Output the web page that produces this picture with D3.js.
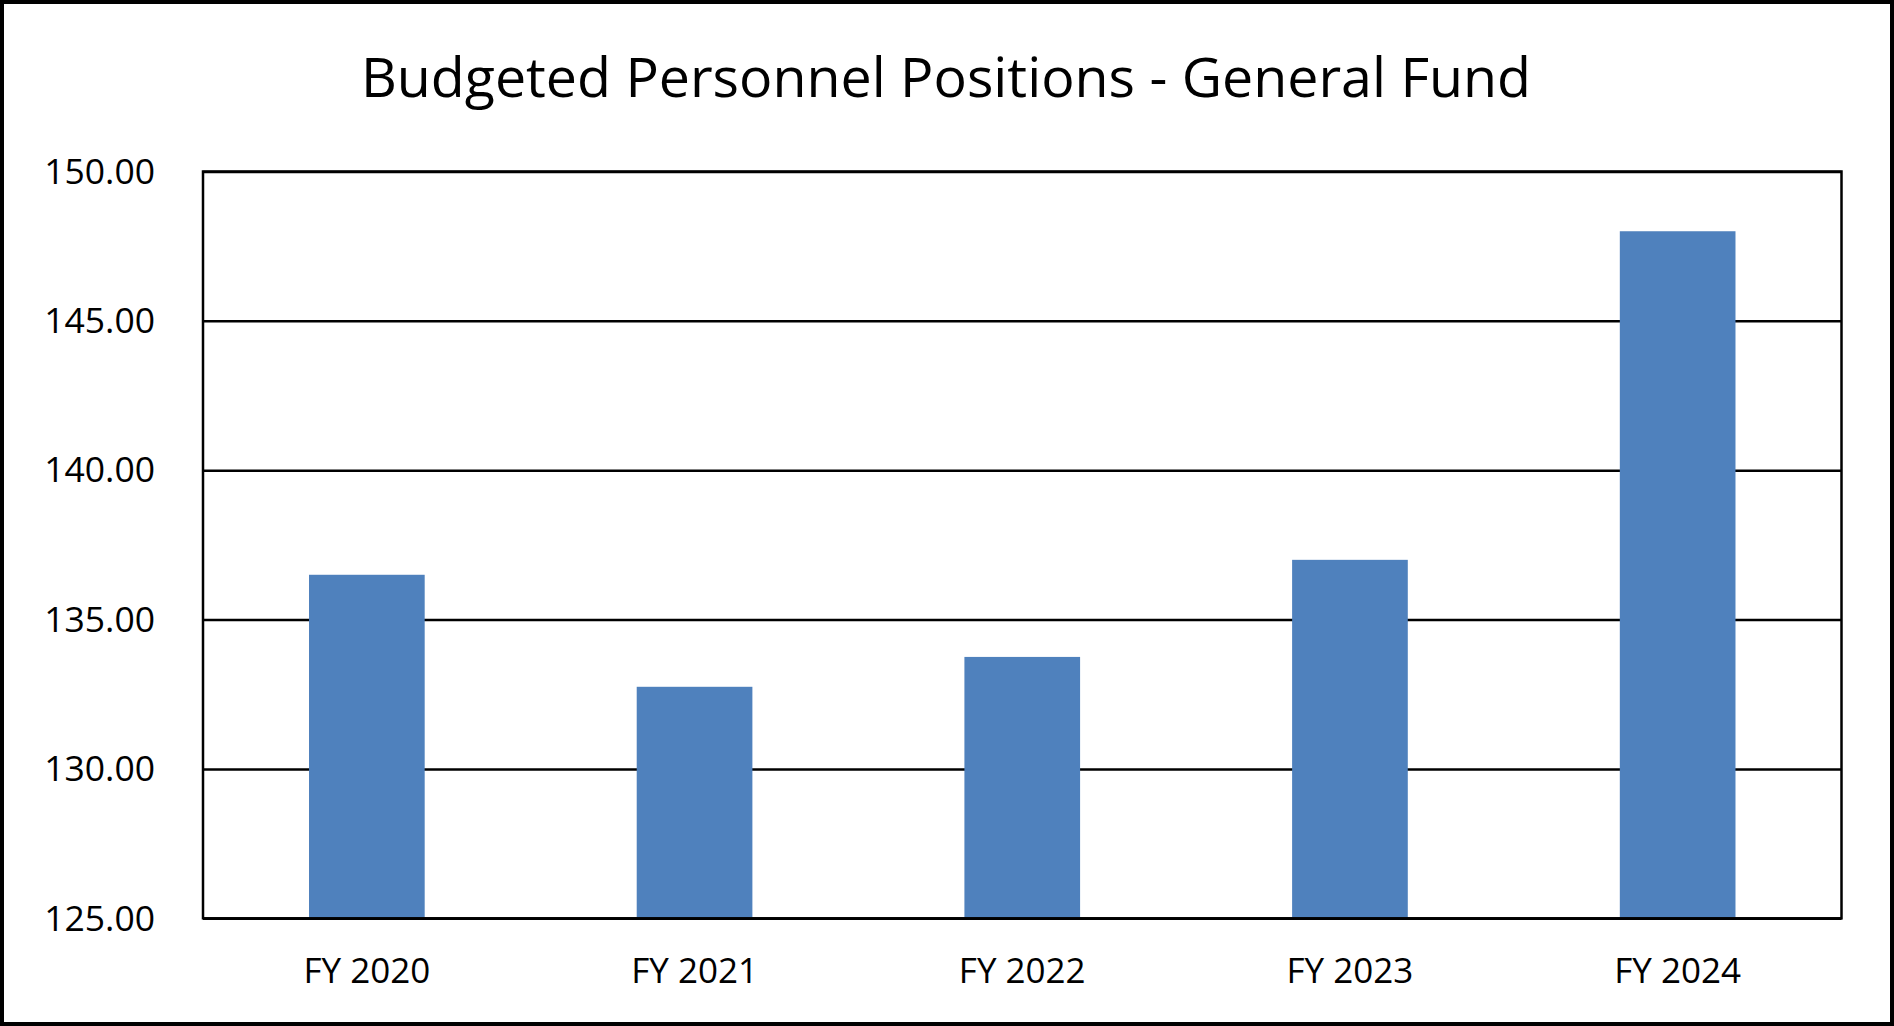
<!DOCTYPE html>
<html><head><meta charset="utf-8">
<script src="https://cdn.jsdelivr.net/npm/d3@7"></script>
<style>
html,body{margin:0;padding:0;background:#fff;}
text{font-family:"Open Sans",sans-serif;fill:#000;}
</style></head>
<body>
<svg id="chart" width="1894" height="1026"></svg>
<script>
const title = "Budgeted Personnel Positions - General Fund";
const categories = ["FY 2020", "FY 2021", "FY 2022", "FY 2023", "FY 2024"];
const values = [136.5, 132.75, 133.75, 137.0, 148.0];
const yTicks = [125, 130, 135, 140, 145, 150];

const W = 1894, H = 1026;
const m = {left: 203, right: 1841.5, top: 171.5, bottom: 918.3};
const svg = d3.select("#chart");

svg.append("rect").attr("x", 2).attr("y", 2).attr("width", W - 4).attr("height", H - 4)
  .attr("fill", "#fff").attr("stroke", "#000").attr("stroke-width", 4);

const x = d3.scaleBand().domain(categories).range([m.left, m.right])
  .paddingInner(0.647).paddingOuter(0.647 / 2);
const y = d3.scaleLinear().domain([125, 150]).range([m.bottom, m.top]);

// gridlines
const grid = svg.append("g").attr("transform", `translate(${m.left},0)`)
  .call(d3.axisLeft(y).tickValues(yTicks).tickSize(-(m.right - m.left)).tickFormat(""));
grid.select(".domain").remove();
grid.selectAll("line").attr("stroke", "#000").attr("stroke-width", 2.5);

// bars
svg.append("g").selectAll("rect").data(values).join("rect")
  .attr("x", (d, i) => x(categories[i]))
  .attr("width", x.bandwidth())
  .attr("y", d => y(d))
  .attr("height", d => y(125) - y(d))
  .attr("fill", "#4F81BD");

// plot border
svg.append("rect").attr("x", m.left).attr("y", m.top)
  .attr("width", m.right - m.left).attr("height", m.bottom - m.top)
  .attr("fill", "none").attr("stroke", "#000").attr("stroke-width", 2.5);

// y axis labels
const ya = svg.append("g").attr("transform", `translate(${m.left - 48},0)`)
  .call(d3.axisLeft(y).tickValues(yTicks).tickSize(0).tickPadding(0).tickFormat(d3.format(".2f")));
ya.select(".domain").remove();
ya.selectAll("text").attr("font-size", 35.5).attr("font-family", "Open Sans").attr("fill", "#000")
  .attr("dy", "0.33em").attr("text-anchor", "end");

// x axis labels
const xa = svg.append("g").attr("transform", `translate(0,${m.bottom})`)
  .call(d3.axisBottom(x).tickSize(0).tickPadding(0));
xa.select(".domain").remove();
xa.selectAll("text").attr("font-size", 35).attr("font-family", "Open Sans").attr("fill", "#000")
  .attr("y", 64.5).attr("dy", 0);

// title
svg.append("text").attr("x", 946).attr("y", 97).attr("text-anchor", "middle")
  .attr("font-size", 55.5).text(title);
</script>
</body></html>
